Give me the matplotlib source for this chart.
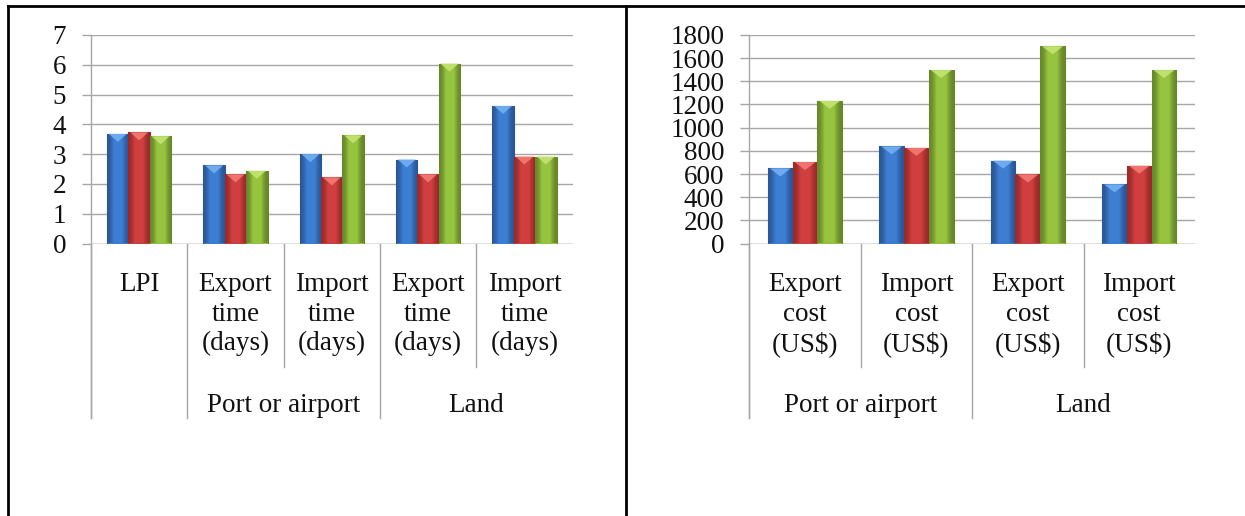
import numpy as np
import matplotlib
matplotlib.use("Agg")
from matplotlib import pyplot as plt
from matplotlib.colors import LinearSegmentedColormap
from matplotlib.lines import Line2D
from matplotlib.patches import Polygon

plt.rcParams['font.family'] = ['Liberation Serif', 'DejaVu Serif']

# Left chart: LPI and times
time_cats = ['LPI', 'Export\ntime\n(days)', 'Import\ntime\n(days)',
             'Export\ntime\n(days)', 'Import\ntime\n(days)']
time_blue = [3.68, 2.62, 3.00, 2.82, 4.62]
time_red = [3.73, 2.32, 2.22, 2.32, 2.92]
time_green = [3.60, 2.44, 3.63, 6.04, 2.92]
time_groups = [('', 0, 1), ('Port or airport', 1, 3), ('Land', 3, 5)]

# Right chart: costs
cost_cats = ['Export\ncost\n(US$)', 'Import\ncost\n(US$)',
             'Export\ncost\n(US$)', 'Import\ncost\n(US$)']
cost_blue = [648, 838, 716, 510]
cost_red = [703, 826, 596, 672]
cost_green = [1232, 1497, 1702, 1497]
cost_groups = [('Port or airport', 0, 2), ('Land', 2, 4)]

# (dark edge, base, light) per series
palette = [('#2a5796', '#3d7ed2', '#74b0f2'),
           ('#9a2a2a', '#d03f3f', '#f27a74'),
           ('#67872a', '#97c43f', '#c4e472')]

GRID = '#a6a6a6'
FS = 19.5
W = 1245
H = 516


def draw_bars(ax, series, ymax):
    n = len(series[0])
    x = np.arange(n)
    bw = 0.222
    ax.set_xlim(-0.5, n - 0.5)
    ax.set_ylim(0, ymax)
    # pixel size in data units, for the bevel
    px = ymax / (ax.get_position().height * H)
    for k, vals in enumerate(series):
        dark, base, light = palette[k]
        cmap = LinearSegmentedColormap.from_list(
            'g%d' % k, [dark, base, base, base, dark])
        grad = np.array([[0.0, 0.12, 0.3, 0.5, 0.7, 0.88, 1.0]])
        bars = ax.bar(x + (k - 1) * bw, vals, bw, color=base,
                      edgecolor=dark, linewidth=0.8, zorder=2)
        for b in bars:
            bx, by = b.get_x(), b.get_y()
            bwid, bh = b.get_width(), b.get_height()
            im = ax.imshow(grad, cmap=cmap, aspect='auto',
                           extent=[bx, bx + bwid, by, by + bh],
                           interpolation='bicubic', zorder=2.5, vmin=0, vmax=1)
            im.set_clip_path(b)
            tri = Polygon([[bx + bwid * 0.08, by + bh], [bx + bwid * 0.92, by + bh],
                           [bx + bwid / 2, by + bh - 8 * px]],
                          closed=True, facecolor=light, edgecolor='none',
                          alpha=0.9, zorder=3)
            ax.add_patch(tri)
    ax.set_xlim(-0.5, n - 0.5)
    ax.set_ylim(0, ymax)


def style_axis(ax, cats, groups, ymax, step):
    ax.set_yticks(np.arange(0, ymax + step, step))
    ax.set_xticks([])
    ax.yaxis.grid(True, color=GRID, linewidth=1.0)
    ax.set_axisbelow(True)
    for s in ['top', 'right', 'bottom']:
        ax.spines[s].set_visible(False)
    ax.spines['left'].set_color(GRID)
    ax.spines['left'].set_linewidth(1.0)
    ax.tick_params(axis='y', length=6.5, width=1.0, color=GRID,
                   labelsize=FS, pad=11.5, labelcolor='#111111')
    ax.axhline(0, color=GRID, linewidth=1.0, zorder=1)
    h = ax.get_position().height * H
    short = -(366.7 - 243.5) / h
    long_ = -(417.7 - 243.5) / h
    starts = [g[1] for g in groups]
    for i in range(len(cats)):
        bottom = long_ if i in starts else short
        ax.axvline(i - 0.5, ymin=bottom, ymax=0, color=GRID,
                   linewidth=1.0, clip_on=False)
    ax.axvline(-0.5, ymin=long_, ymax=0, color=GRID, linewidth=1.0,
               clip_on=False)
    tr = ax.get_xaxis_transform()
    for i, c in enumerate(cats):
        ax.text(i, -(272 - 243.5) / h, c, transform=tr, ha='center',
                va='top', fontsize=FS, linespacing=1.24,
                color='#111111')
    for name, a, b in groups:
        ax.text((a + b - 1) / 2, -(405 - 243.5) / h, name, transform=tr,
                ha='center', va='center', fontsize=FS, color='#111111')


fig = plt.figure(figsize=(W / 100, H / 100), dpi=100)

y0 = (H - 243.5) / H
hh = 208.5 / H
ax1 = fig.add_axes([91 / W, y0, (572.6 - 91) / W, hh])
ax2 = fig.add_axes([749.3 / W, y0, (1195 - 749.3) / W, hh])

draw_bars(ax1, [time_blue, time_red, time_green], 7)
style_axis(ax1, time_cats, time_groups, 7, 1)
draw_bars(ax2, [cost_blue, cost_red, cost_green], 1800)
style_axis(ax2, cost_cats, cost_groups, 1800, 200)

# outer frame of the two panels
for line in [([8 / W, 1], [1 - 6 / H, 1 - 6 / H]),
             ([8 / W, 8 / W], [0, 1 - 6 / H]),
             ([626 / W, 626 / W], [0, 1 - 6 / H])]:
    fig.add_artist(Line2D(line[0], line[1], color='black', linewidth=2.0,
                          transform=fig.transFigure))

fig.savefig('out.png', dpi=100)
